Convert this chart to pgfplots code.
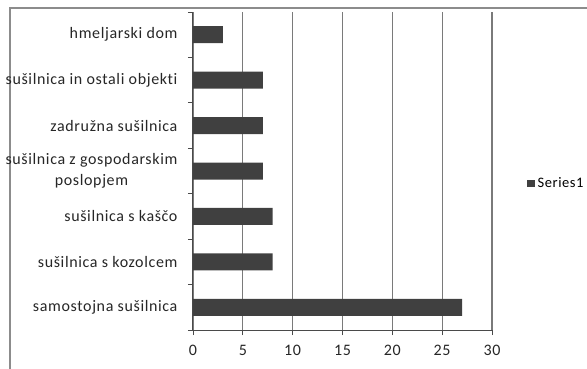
\documentclass[border=0pt]{standalone}
\usepackage{fontspec}
\setmainfont{Carlito}[LetterSpace=4, Ligatures=NoCommon]
\usepackage{pgfplots}
\pgfplotsset{compat=1.18}
\definecolor{barcol}{HTML}{404040}
\definecolor{gridcol}{HTML}{7A7A7A}
\definecolor{framecol}{HTML}{8C8C8C}
\definecolor{axcol}{HTML}{4A4A4A}
\begin{document}
\begin{tikzpicture}[x=1pt,y=1pt]
\path[use as bounding box, clip] (0,0) rectangle (587,368);
\draw[framecol, line width=1.5pt] (10,-5) -- (10,360) -- (600,360);
\begin{axis}[
  at={(193pt,38pt)}, anchor=south west,
  scale only axis, width=299pt, height=318pt,
  xbar, bar width=17pt,
  xmin=0, xmax=30, ymin=-0.5, ymax=6.5,
  xtick={0,5,...,30},
  ytick={-0.5,0.5,1.5,2.5,3.5,4.5,5.5,6.5},
  y tick label as interval,
  yticklabels={samostojna sušilnica, sušilnica s kozolcem, sušilnica s kaščo, {sušilnica z gospodarskim\\poslopjem}, zadružna sušilnica, sušilnica in ostali objekti, hmeljarski dom},
  axis lines=left, axis line style={-, draw=axcol, line width=1pt},
  tick align=outside, major tick length=5pt,
  tick style={draw=axcol, line width=0.8pt},
  xmajorgrids, major grid style={draw=gridcol, line width=1.1pt},
  /pgf/number format/assume math mode=true,
  tick label style={font=\fontsize{16}{21}\selectfont, text=black!85},
  yticklabel style={align=center, xshift=-7pt},
  xticklabel style={yshift=-7pt},
  legend style={at={(1.115,0.462)}, anchor=west, draw=none, fill=none, font=\fontsize{14.5}{16}\selectfont, inner sep=0pt,
    legend cell align=left, /tikz/every odd column/.append style={column sep=1pt}},
  legend image code/.code={\fill[barcol] (0pt,-3.5pt) rectangle (8pt,3.5pt);},
]
\addplot[fill=barcol, draw=none] coordinates {(27,0) (8,1) (8,2) (7,3) (7,4) (7,5) (3,6)};
\addlegendentry{Series1}
\end{axis}
\end{tikzpicture}
\end{document}
